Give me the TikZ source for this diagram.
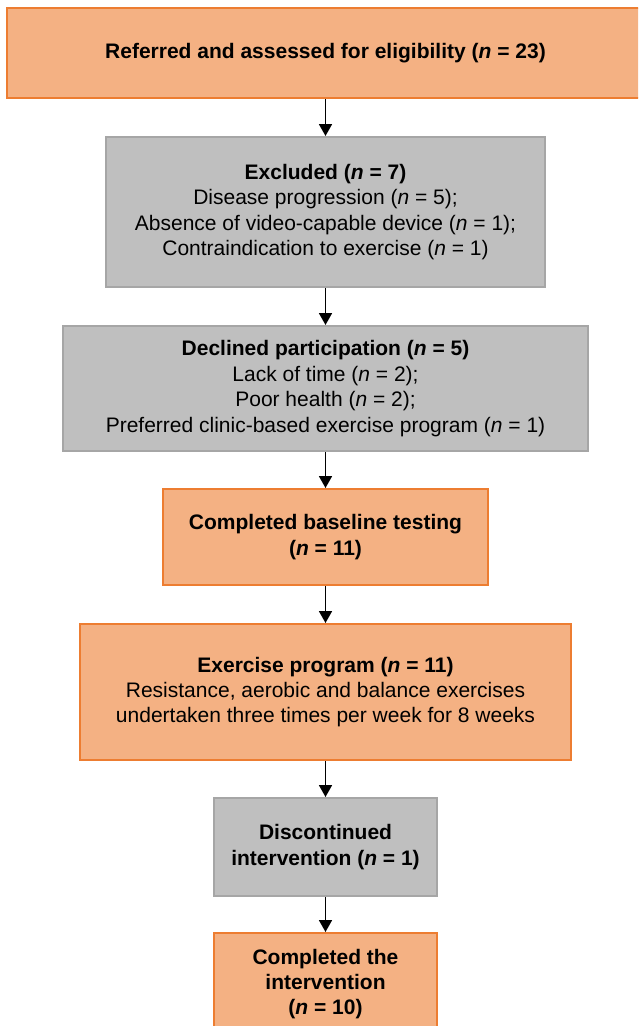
\documentclass[tikz,border=0pt]{standalone}
\usepackage{fontspec}
\setmainfont{Liberation Sans}
\usepackage{xcolor}
\usetikzlibrary{arrows.meta}
\definecolor{boxorange}{HTML}{F4B183}
\definecolor{lineorange}{HTML}{ED7D31}
\definecolor{boxgray}{HTML}{BFBFBF}
\definecolor{linegray}{HTML}{A6A6A6}

\begin{document}
\begin{tikzpicture}[x=1pt,y=-1pt,
    orangebox/.style={draw=lineorange,fill=boxorange,line width=2pt,align=center,inner sep=0pt,font=\fontsize{21}{25.4}\selectfont},
    graybox/.style={draw=linegray,fill=boxgray,line width=2pt,align=center,inner sep=0pt,font=\fontsize{21}{25.4}\selectfont},
    flow/.style={-{Triangle[length=12pt,width=13pt]},line width=1.8pt}]
\clip (0,0) rectangle (638,1026);
\node[orangebox,minimum width=637pt,minimum height=90pt] (refer) at (325.5,53) {\textbf{Referred and assessed for eligibility (\emph{n} = 23)}};
\node[graybox,minimum width=439pt,minimum height=150pt] (excl) at (325.5,212) {\textbf{Excluded (\emph{n} = 7)}\\Disease progression (\emph{n} = 5);\\Absence of video-capable device (\emph{n} = 1);\\Contraindication to exercise (\emph{n} = 1)};
\node[graybox,minimum width=525pt,minimum height=125pt] (decl) at (325.5,388.5) {\textbf{Declined participation (\emph{n} = 5)}\\Lack of time (\emph{n} = 2);\\Poor health (\emph{n} = 2);\\Preferred clinic-based exercise program (\emph{n} = 1)};
\node[orangebox,minimum width=325pt,minimum height=96pt] (base) at (325.5,537) {\textbf{Completed baseline testing}\\\textbf{(\emph{n} = 11)}};
\node[orangebox,minimum width=491pt,minimum height=136pt] (prog) at (325.5,692) {\textbf{Exercise program (\emph{n} = 11)}\\Resistance, aerobic and balance exercises\\undertaken three times per week for 8 weeks};
\node[graybox,minimum width=223pt,minimum height=98pt] (disc) at (325.5,847) {\textbf{Discontinued}\\\textbf{intervention (\emph{n} = 1)}};
\node[orangebox,minimum width=223pt,minimum height=102pt] (done) at (325.5,984) {\textbf{Completed the}\\\textbf{intervention}\\\textbf{(\emph{n} = 10)}};
\draw[flow] (refer) -- (excl);
\draw[flow] (excl) -- (decl);
\draw[flow] (decl) -- (base);
\draw[flow] (base) -- (prog);
\draw[flow] (prog) -- (disc);
\draw[flow] (disc) -- (done);
\end{tikzpicture}
\end{document}
